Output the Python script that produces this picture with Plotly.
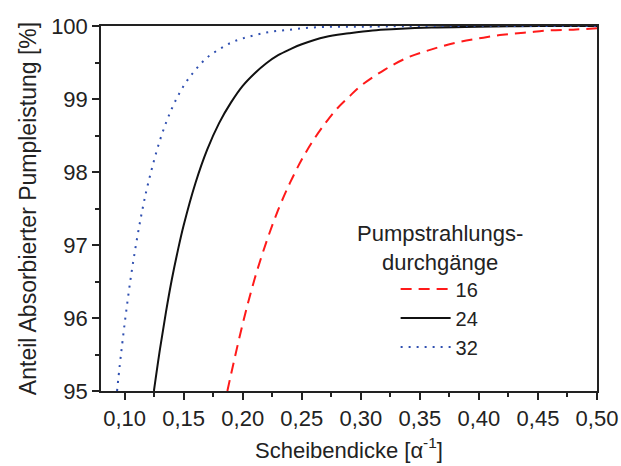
import plotly.graph_objects as go

# Data
x16 = [0.187, 0.19, 0.20, 0.21, 0.22, 0.23, 0.24, 0.25, 0.26, 0.27, 0.28, 0.29, 0.30,
       0.32, 0.34, 0.36, 0.38, 0.40, 0.42, 0.44, 0.46, 0.48, 0.50]
y16 = [95.00, 95.22, 95.92, 96.53, 97.04, 97.48, 97.85, 98.17, 98.44, 98.67, 98.87, 99.03, 99.18,
       99.40, 99.57, 99.68, 99.77, 99.83, 99.88, 99.91, 99.94, 99.95, 99.97]

x24 = [0.1248, 0.13, 0.135, 0.14, 0.145, 0.15, 0.16, 0.17, 0.18, 0.19, 0.20, 0.21, 0.22,
       0.23, 0.24, 0.25, 0.27, 0.29, 0.31, 0.33, 0.36, 0.40, 0.45, 0.50]
y24 = [95.00, 95.58, 96.08, 96.53, 96.92, 97.27, 97.85, 98.31, 98.67, 98.95, 99.18, 99.35, 99.49,
       99.60, 99.68, 99.75, 99.85, 99.90, 99.94, 99.96, 99.98, 99.99, 100.00, 100.00]

x32 = [0.0936, 0.096, 0.098, 0.10, 0.105, 0.11, 0.115, 0.12, 0.13, 0.14, 0.15, 0.16, 0.17,
       0.18, 0.19, 0.20, 0.22, 0.24, 0.26, 0.28, 0.30, 0.35, 0.50]
y32 = [95.00, 95.37, 95.65, 95.92, 96.53, 97.04, 97.48, 97.85, 98.44, 98.87, 99.18, 99.40, 99.57,
       99.68, 99.77, 99.83, 99.91, 99.95, 99.98, 99.99, 99.99, 100.00, 100.00]

x_ticks = [0.10, 0.15, 0.20, 0.25, 0.30, 0.35, 0.40, 0.45, 0.50]
y_ticks = [95, 96, 97, 98, 99, 100]

FONT = "Liberation Sans, Arial, sans-serif"
FS = 22
TXT = "#222222"

fig = go.Figure()
fig.add_trace(go.Scatter(x=x16, y=y16, mode="lines", name="16",
                         line=dict(color="#ff1a1a", width=2, dash="11px,7px", shape="spline")))
fig.add_trace(go.Scatter(x=x24, y=y24, mode="lines", name="24",
                         line=dict(color="#111111", width=2, shape="spline")))
fig.add_trace(go.Scatter(x=x32, y=y32, mode="lines", name="32",
                         line=dict(color="#2f4fb0", width=2, dash="2px,6px", shape="spline")))

fig.add_annotation(text="Pumpstrahlungs-<br>durchgänge", xref="paper", yref="paper",
                   x=0.684, y=0.392, xanchor="center", yanchor="middle", showarrow=False,
                   font=dict(family=FONT, size=FS, color=TXT))

fig.update_layout(
    width=621, height=466,
    margin=dict(l=101, r=24, t=26, b=75),
    plot_bgcolor="white", paper_bgcolor="white",
    separators=",.",
    font=dict(family=FONT, size=FS, color=TXT),
    showlegend=True,
    legend=dict(x=0.594, y=0.333, xanchor="left", yanchor="top",
                bgcolor="rgba(0,0,0,0)", font=dict(size=20),
                tracegroupgap=0, itemwidth=50),
    xaxis=dict(range=[0.08, 0.5], tickvals=x_ticks, tickformat=".2f",
               automargin=False,
               showline=True, linecolor=TXT, linewidth=1.5, mirror=True,
               ticks="outside", ticklen=7, tickwidth=1.5, tickcolor=TXT,
               minor=dict(ticks="outside", dtick=0.025, tick0=0.075, ticklen=4,
                          tickwidth=1.5, tickcolor=TXT),
               tickfont=dict(size=FS),
               showgrid=False, zeroline=False,
               title=dict(text="Scheibendicke [α<sup>-1</sup>]", standoff=12,
                          font=dict(size=FS))),
    yaxis=dict(range=[95, 100], tickvals=y_ticks, tickformat="d",
               automargin=False,
               showline=True, linecolor=TXT, linewidth=1.5, mirror=True,
               ticks="outside", ticklen=7, tickwidth=1.5, tickcolor=TXT,
               minor=dict(ticks="outside", dtick=0.5, ticklen=4,
                          tickwidth=1.5, tickcolor=TXT),
               tickfont=dict(size=FS),
               showgrid=False, zeroline=False,
               title=dict(text="Anteil Absorbierter Pumpleistung [%]", standoff=8,
                          font=dict(size=23))),
)

fig.write_html("out.html")
